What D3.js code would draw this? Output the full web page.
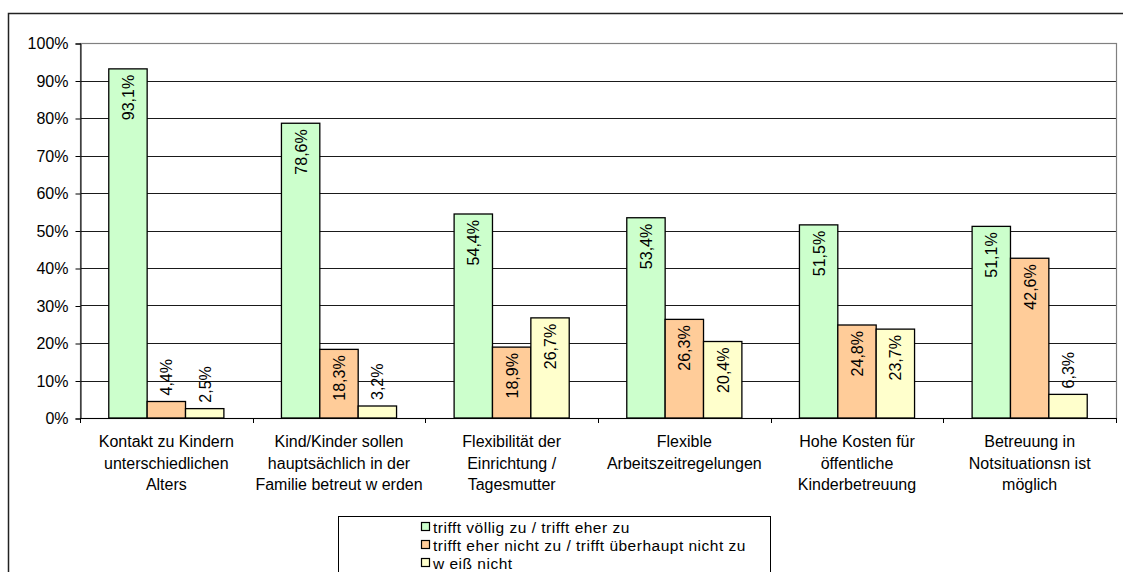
<!DOCTYPE html>
<html>
<head>
<meta charset="utf-8">
<script src="https://cdn.jsdelivr.net/npm/d3@7"></script>
<style>
  html, body { margin: 0; padding: 0; background: #fff; }
  svg { display: block; font-family: "Liberation Sans", Arial, sans-serif; }
</style>
</head>
<body>
<svg id="chart" width="1123" height="572"></svg>
<script>
// Category labels (line breaks as drawn under the axis)
const categories = [
  ["Kontakt zu Kindern", "unterschiedlichen", "Alters"],
  ["Kind/Kinder sollen", "hauptsächlich in der", "Familie betreut w erden"],
  ["Flexibilität der", "Einrichtung /", "Tagesmutter"],
  ["Flexible", "Arbeitszeitregelungen"],
  ["Hohe Kosten für", "öffentliche", "Kinderbetreuung"],
  ["Betreuung in", "Notsituationsn ist", "möglich"]
];

const seriesNames = [
  "trifft völlig zu / trifft eher zu",
  "trifft eher nicht zu / trifft überhaupt nicht zu",
  "w eiß nicht"
];
const seriesColors = ["#CCFFCC", "#FFCC99", "#FFFFCC"];

// Percent values per series, one entry per category
const agree    = [93.1, 78.6, 54.4, 53.4, 51.5, 51.1];
const disagree = [4.4, 18.3, 18.9, 26.3, 24.8, 42.6];
const unknown  = [2.5, 3.2, 26.7, 20.4, 23.7, 6.3];
const series = [agree, disagree, unknown];

const yTicks = [0, 10, 20, 30, 40, 50, 60, 70, 80, 90, 100];

const svg = d3.select("#chart");
const plot = { left: 80, right: 1116, top: 43, bottom: 418 };
const FS = 16;

// Outer chart frame
svg.append("rect")
  .attr("x", 8.5).attr("y", 13.5)
  .attr("width", 1130).attr("height", 600)
  .attr("fill", "none").attr("stroke", "#222").attr("stroke-width", 1.5);

const x0 = d3.scaleBand()
  .domain(d3.range(categories.length))
  .range([plot.left, plot.right])
  .paddingInner(0).paddingOuter(0);

// 150% gap between groups: bar width = band / 4.5
const gap = x0.bandwidth() * 0.75 / 4.5;
const x1 = d3.scaleBand()
  .domain(d3.range(series.length))
  .range([gap, x0.bandwidth() - gap])
  .padding(0);

const y = d3.scaleLinear().domain([0, 100]).range([plot.bottom, plot.top]);

// Gridlines
svg.append("g")
  .selectAll("line")
  .data(yTicks.filter(t => t > 0))
  .join("line")
  .attr("x1", plot.left).attr("x2", plot.right)
  .attr("y1", d => Math.round(y(d)) + 0.5).attr("y2", d => Math.round(y(d)) + 0.5)
  .attr("stroke", "#1a1a1a").attr("stroke-width", 1);

// Plot area border (grey)
svg.append("rect")
  .attr("x", plot.left + 0.5).attr("y", Math.round(plot.top) + 0.5)
  .attr("width", plot.right - plot.left).attr("height", plot.bottom - plot.top)
  .attr("fill", "none").attr("stroke", "#808080").attr("stroke-width", 1.2);

// Y axis
const yAxis = d3.axisLeft(y)
  .tickValues(yTicks)
  .tickFormat(d => d + "%")
  .tickSize(5)
  .tickPadding(7);
const yg = svg.append("g")
  .attr("transform", `translate(${plot.left + 0.5},0.5)`)
  .call(yAxis);
yg.select(".domain").attr("stroke", "#000");
yg.selectAll(".tick line").attr("stroke", "#000");
yg.selectAll(".tick text")
  .attr("font-size", FS)
  .attr("font-family", "Liberation Sans, Arial, sans-serif")
  .attr("fill", "#000");

// X axis: ticks at category boundaries
const boundaries = d3.range(categories.length + 1).map(i => plot.left + i * x0.bandwidth());
svg.append("line")
  .attr("x1", plot.left).attr("x2", plot.right)
  .attr("y1", plot.bottom + 0.5).attr("y2", plot.bottom + 0.5)
  .attr("stroke", "#000");
svg.append("g").selectAll("line")
  .data(boundaries)
  .join("line")
  .attr("x1", d => Math.round(d) + 0.5).attr("x2", d => Math.round(d) + 0.5)
  .attr("y1", plot.bottom).attr("y2", plot.bottom + 5)
  .attr("stroke", "#000");

// Category labels
const catG = svg.append("g");
categories.forEach((lines, i) => {
  const t = catG.append("text")
    .attr("x", x0(i) + x0.bandwidth() / 2)
    .attr("y", 447)
    .attr("text-anchor", "middle")
    .attr("font-size", FS)
    .attr("fill", "#000");
  lines.forEach((ln, k) => {
    t.append("tspan")
      .attr("x", x0(i) + x0.bandwidth() / 2)
      .attr("dy", k === 0 ? 0 : 21.7)
      .text(ln);
  });
});

// Bars
const barData = [];
series.forEach((vals, s) => vals.forEach((v, c) => barData.push({ s, c, v })));

svg.append("g").selectAll("rect")
  .data(barData)
  .join("rect")
  .attr("x", d => x0(d.c) + x1(d.s))
  .attr("y", d => y(d.v))
  .attr("width", x1.bandwidth())
  .attr("height", d => y(0) - y(d.v))
  .attr("fill", d => seriesColors[d.s])
  .attr("stroke", "#000")
  .attr("stroke-width", 1.3);

// Value labels, rotated; inside the bar end when they fit, otherwise above
const fmt = v => d3.format(".1f")(v).replace(".", ",") + "%";
svg.append("g").selectAll("text")
  .data(barData)
  .join("text")
  .each(function (d) {
    const cx = x0(d.c) + x1(d.s) + x1.bandwidth() / 2;
    const top = y(d.v);
    const inside = (y(0) - top) > 56;
    d3.select(this)
      .attr("transform", `translate(${cx + 6},${inside ? top + 6 : top - 6}) rotate(-90)`)
      .attr("text-anchor", inside ? "end" : "start")
      .attr("font-size", FS)
      .attr("fill", "#000")
      .text(fmt(d.v));
  });

// Legend
const legend = svg.append("g");
legend.append("rect")
  .attr("x", 338.5).attr("y", 516.5)
  .attr("width", 432).attr("height", 80)
  .attr("fill", "#fff").attr("stroke", "#000").attr("stroke-width", 1);
seriesNames.forEach((name, i) => {
  const cy = 527 + i * 18;
  legend.append("rect")
    .attr("x", 421.5).attr("y", cy - 4.5)
    .attr("width", 8).attr("height", 8)
    .attr("fill", seriesColors[i]).attr("stroke", "#000").attr("stroke-width", 1.2);
  legend.append("text")
    .attr("x", 433).attr("y", cy + 5.5)
    .attr("font-size", 15.5)
    .attr("letter-spacing", 0.5)
    .attr("fill", "#000")
    .text(name);
});
</script>
</body>
</html>
